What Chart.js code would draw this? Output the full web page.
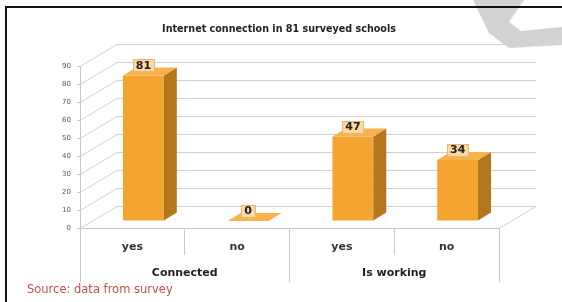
<!DOCTYPE html>
<html>
<head>
<meta charset="utf-8">
<script src="https://cdn.jsdelivr.net/npm/chart.js@4.4.1/dist/chart.umd.min.js"></script>
<style>
  body { margin: 0; background: #fff; }
  #wrap { position: relative; width: 562px; height: 302px; overflow: hidden; }
  #mark, #chart { position: absolute; left: 0; top: 0; }
  #frame { position: absolute; left: 5px; top: 6px; right: -4px; bottom: -4px; border-left: 2px solid #111; border-top: 2px solid #111; }
  #source { position: absolute; left: 27px; top: 282px; font: 11.5px "DejaVu Sans"; line-height: 14px; color: #c0504d; }
</style>
</head>
<body>
<div id="wrap">
  <svg id="mark" width="562" height="302">
    <polygon points="473,0 524,0 509,22 521,31 562,27 562,45 509,48 489,33" fill="#d3d3d3" />
  </svg>
  <canvas id="chart" width="562" height="302"></canvas>
  <div id="frame"></div>
  <div id="source">Source: data from survey</div>
</div>
<script>
const categories = ['yes', 'no', 'yes', 'no'];
const groups = ['Connected', 'Is working'];
const schoolCounts = [81, 0, 47, 34];
const yMax = 90;
const yStep = 10;

const FRONT = '#f4a531';
const SIDE = '#b5771e';
const TOP = '#f7b24c';

// offsets of the fake 3d: front plane -> back wall, front plane -> bar face, bar depth
const WALL_DX = 37, WALL_DY = -22;
const BAR_X = 11, BAR_Y = -7;
const BAR_DX = 13, BAR_DY = -8;

function fillPoly(ctx, pts) {
  ctx.beginPath();
  ctx.moveTo(pts[0][0], pts[0][1]);
  pts.slice(1).forEach(p => ctx.lineTo(p[0], p[1]));
  ctx.closePath();
  ctx.fill();
}

const threeD = {
  id: 'threeD',
  beforeDatasetsDraw(chart) {
    const { ctx, chartArea: a, scales: { y } } = chart;

    ctx.save();
    ctx.strokeStyle = '#d0d0d0';
    ctx.lineWidth = 1;
    y.ticks.forEach(t => {
      const py = Math.round(y.getPixelForValue(t.value)) + 0.5;
      ctx.beginPath();
      ctx.moveTo(a.left, py);
      ctx.lineTo(a.left + WALL_DX, py + WALL_DY);
      ctx.lineTo(a.right + WALL_DX, py + WALL_DY);
      ctx.stroke();
    });

    // right edge of the floor
    ctx.beginPath();
    ctx.moveTo(a.right, a.bottom + 0.5);
    ctx.lineTo(a.right + WALL_DX, a.bottom + 0.5 + WALL_DY);
    ctx.stroke();
    ctx.restore();

    // bar front faces sit a bit behind the front plane
    ctx.save();
    ctx.translate(BAR_X, BAR_Y);
  },
  afterDatasetsDraw(chart) {
    const { ctx } = chart;
    ctx.restore();

    const meta = chart.getDatasetMeta(0);
    meta.data.forEach((bar, i) => {
      const { x, y, base, width } = bar.getProps(['x', 'y', 'base', 'width'], true);
      const l = x - width / 2 + BAR_X;
      const r = x + width / 2 + BAR_X;
      const t = y + BAR_Y;
      const b = base + BAR_Y;

      ctx.save();
      ctx.fillStyle = SIDE;
      fillPoly(ctx, [[r, t], [r + BAR_DX, t + BAR_DY], [r + BAR_DX, b + BAR_DY], [r, b]]);
      ctx.fillStyle = TOP;
      fillPoly(ctx, [[l, t], [l + BAR_DX, t + BAR_DY], [r + BAR_DX, t + BAR_DY], [r, t]]);

      // value label box
      const text = String(schoolCounts[i]);
      ctx.font = 'bold 11px "DejaVu Sans"';
      const w = ctx.measureText(text).width;
      const cx = x + BAR_X;
      const cy = t - 10;
      ctx.fillStyle = '#fad8a2';
      ctx.strokeStyle = '#e8b872';
      ctx.lineWidth = 1;
      ctx.fillRect(Math.round(cx - w / 2 - 3), Math.round(cy - 6), Math.round(w + 6), 12);
      ctx.strokeRect(Math.round(cx - w / 2 - 3) + 0.5, Math.round(cy - 6) + 0.5, Math.round(w + 6), 12);
      ctx.fillStyle = '#222';
      ctx.textAlign = 'center';
      ctx.textBaseline = 'middle';
      ctx.fillText(text, cx, cy + 0.5);
      ctx.restore();
    });
  }
};

new Chart(document.getElementById('chart'), {
  type: 'bar',
  data: {
    labels: categories,
    datasets: [{
      data: schoolCounts,
      backgroundColor: FRONT,
      borderWidth: 0,
      barPercentage: 0.39,
      categoryPercentage: 1
    }]
  },
  options: {
    responsive: false,
    animation: false,
    devicePixelRatio: 1,
    layout: {
      padding: { left: 59, right: 63, top: 0, bottom: 20 }
    },
    scales: {
      x: {
        position: 'bottom',
        weight: 0,
        grid: { offset: true, drawOnChartArea: false, tickLength: 27, color: '#c8c8c8' },
        border: { display: true, color: '#c8c8c8' },
        ticks: {
          padding: -14,
          color: '#333',
          font: { family: 'DejaVu Sans', size: 11, weight: 'bold' }
        },
        afterFit: s => { s.height = 27; }
      },
      x2: {
        type: 'category',
        labels: groups,
        position: 'bottom',
        weight: 1,
        offset: true,
        grid: { offset: true, drawOnChartArea: false, tickLength: 27, color: '#c8c8c8' },
        border: { display: false },
        ticks: {
          padding: -15,
          color: '#222',
          font: { family: 'DejaVu Sans', size: 11, weight: 'bold' }
        },
        afterFit: s => { s.height = 27; }
      },
      y: {
        min: 0,
        max: yMax,
        grid: { drawOnChartArea: false, tickLength: 3, color: '#c8c8c8' },
        border: { display: true, color: '#c8c8c8' },
        ticks: {
          stepSize: yStep,
          padding: 6,
          color: '#595959',
          font: { family: 'DejaVu Sans', size: 7 }
        },
        afterFit: s => { s.width = 21; }
      }
    },
    plugins: {
      legend: { display: false },
      tooltip: { enabled: false },
      title: {
        display: true,
        text: 'Internet connection in 81 surveyed schools',
        color: '#222',
        font: { family: 'DejaVu Sans', size: 9.6, weight: 'bold' },
        padding: { top: 23.4, bottom: 31.4 }
      }
    }
  },
  plugins: [threeD]
});
</script>
</body>
</html>
